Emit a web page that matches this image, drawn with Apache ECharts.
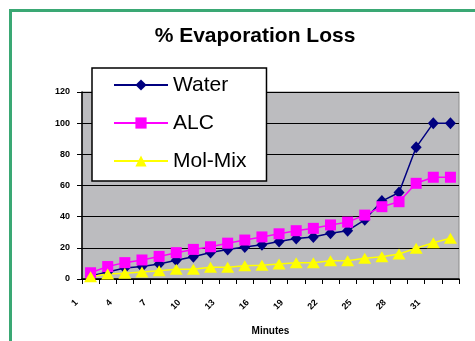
<!DOCTYPE html>
<html>
<head>
<meta charset="utf-8">
<script src="https://cdn.jsdelivr.net/npm/echarts@6/dist/echarts.min.js"></script>
<style>
html,body{margin:0;padding:0;background:#fff;}
#chart{width:475px;height:341px;}
</style>
</head>
<body>
<div id="chart"></div>
<script>
var minutes = ['1','2.5','4','5.5','7','8.5','10','11.5','13','14.5','16','17.5','19','20.5','22','23.5','25','26.5','28','29.5','31','32.5'];
var water = [2, 4.5, 7, 8, 9.6, 12, 14.3, 17, 19, 20.5, 22, 24, 26, 27, 29.3, 31, 38, 50, 55.5, 84.5, 100, 100];
var alc = [4, 8, 10.5, 12.2, 14.5, 16.9, 19, 20.7, 23, 25, 27, 29, 31, 32.5, 34.7, 36.5, 41, 46.4, 49.6, 61.4, 65.3, 65.3];
var molMix = [1.5, 3.2, 3.7, 4.5, 5.3, 6.2, 6.2, 7.5, 7.5, 8.5, 8.8, 9.6, 10.5, 10.5, 11.7, 11.7, 13.3, 14.3, 16, 19.7, 23.3, 26.1];
var yTicks = [0, 20, 40, 60, 80, 100, 120];

var chart = echarts.init(document.getElementById('chart'));
var font = 'Liberation Sans, Arial, sans-serif';
chart.setOption({
  animation: false,
  backgroundColor: '#ffffff',
  title: {
    text: '% Evaporation Loss',
    left: 250, top: 21, textAlign: 'center',
    textStyle: {fontFamily: font, fontSize: 21, fontWeight: 'bold', color: '#000'}
  },
  graphic: [{
    type: 'rect', left: 8, top: 8, silent: true, z: 100,
    shape: {width: 600, height: 600},
    style: {fill: 'none', stroke: '#3aa874', lineWidth: 3}
  }],
  legend: {
    orient: 'vertical',
    left: 92, top: 68,
    backgroundColor: '#ffffff',
    borderColor: '#000', borderWidth: 1.5, borderRadius: 0,
    padding: [6, 20, 9, 21],
    itemWidth: 54, itemHeight: 14, itemGap: 16,
    textStyle: {fontFamily: font, fontSize: 21, color: '#000', lineHeight: 22},
    data: ['Water', 'ALC', 'Mol-Mix']
  },
  grid: {
    left: 82, right: 16, top: 92, bottom: 62,
    show: true, backgroundColor: '#bcbcbf', borderColor: '#8a8a8a', borderWidth: 1
  },
  xAxis: {
    type: 'category',
    data: minutes,
    boundaryGap: true,
    name: 'Minutes', nameLocation: 'middle', nameGap: 47,
    nameTextStyle: {fontFamily: font, fontSize: 10, fontWeight: 'bold', color: '#000'},
    axisLine: {lineStyle: {color: '#000', width: 1.5}},
    axisTick: {show: true, interval: 0, length: 5, lineStyle: {color: '#000'}},
    axisLabel: {
      interval: 1, rotate: 45, margin: 8, padding: [0, 20, 0, 0],
      fontFamily: font, fontSize: 9, fontWeight: 'bold', color: '#000'
    },
    splitLine: {show: false}
  },
  yAxis: {
    type: 'value', min: 0, max: 120, interval: 20,
    axisLine: {show: true, lineStyle: {color: '#000', width: 1.5}},
    axisTick: {show: true, length: 5, lineStyle: {color: '#000'}},
    axisLabel: {
      margin: 12, fontFamily: font, fontSize: 9, fontWeight: 'bold', color: '#000',
      formatter: function (v) { return yTicks.indexOf(v) >= 0 ? String(v) : ''; }
    },
    splitLine: {show: true, lineStyle: {color: '#000', width: 1}}
  },
  series: [
    {
      name: 'Water', type: 'line', data: water, showAllSymbol: true,
      symbol: 'diamond', symbolSize: [11, 12],
      itemStyle: {color: '#000080'},
      lineStyle: {color: '#000080', width: 1.5}
    },
    {
      name: 'ALC', type: 'line', data: alc, showAllSymbol: true,
      symbol: 'rect', symbolSize: 11,
      itemStyle: {color: '#ff00ff'},
      lineStyle: {color: '#ff00ff', width: 1.5}
    },
    {
      name: 'Mol-Mix', type: 'line', data: molMix, showAllSymbol: true,
      symbol: 'triangle', symbolSize: [13, 11],
      itemStyle: {color: '#ffff00'},
      lineStyle: {color: '#ffff00', width: 1.5}
    }
  ]
});
</script>
</body>
</html>
